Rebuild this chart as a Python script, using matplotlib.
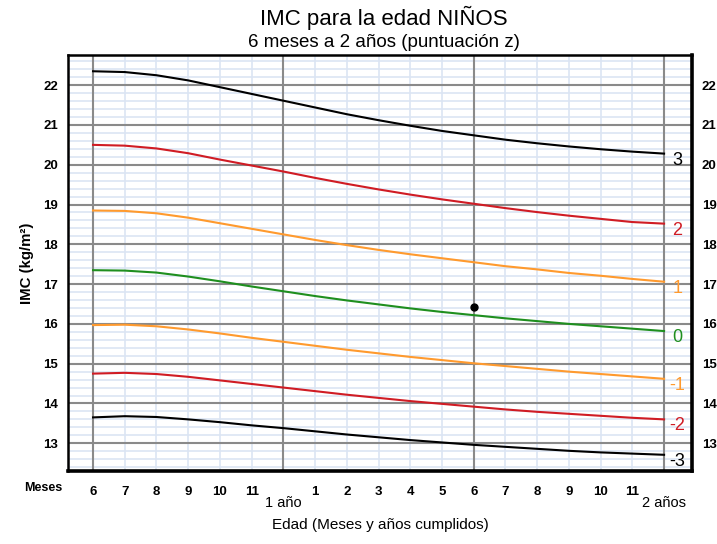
import matplotlib.pyplot as plt

plt.rcParams['font.family'] = ['Liberation Sans', 'DejaVu Sans']

# edad en meses (6 a 24)
months = list(range(6, 25))

# IMC por puntuación z (niños)
z_m3 = [13.65, 13.68, 13.66, 13.60, 13.53, 13.45, 13.38, 13.30, 13.22, 13.15, 13.08, 13.02,
        12.96, 12.91, 12.86, 12.81, 12.77, 12.74, 12.71]
z_m2 = [14.75, 14.77, 14.74, 14.67, 14.58, 14.49, 14.40, 14.31, 14.22, 14.14, 14.06, 13.99,
        13.92, 13.85, 13.79, 13.74, 13.69, 13.64, 13.60]
z_m1 = [15.97, 15.98, 15.94, 15.86, 15.76, 15.65, 15.55, 15.45, 15.35, 15.26, 15.17, 15.09,
        15.01, 14.94, 14.87, 14.80, 14.74, 14.68, 14.62]
z_0 = [17.35, 17.34, 17.29, 17.19, 17.07, 16.94, 16.82, 16.70, 16.59, 16.49, 16.39, 16.30,
       16.22, 16.14, 16.07, 16.00, 15.94, 15.88, 15.82]
z_p1 = [18.85, 18.84, 18.78, 18.67, 18.53, 18.39, 18.25, 18.11, 17.98, 17.86, 17.75, 17.65,
        17.55, 17.45, 17.37, 17.28, 17.21, 17.13, 17.06]
z_p2 = [20.50, 20.48, 20.41, 20.29, 20.13, 19.98, 19.83, 19.67, 19.52, 19.38, 19.25, 19.13,
        19.02, 18.91, 18.81, 18.72, 18.64, 18.56, 18.52]
z_p3 = [22.35, 22.33, 22.25, 22.12, 21.95, 21.78, 21.61, 21.44, 21.27, 21.12, 20.98, 20.85,
        20.74, 20.63, 20.54, 20.46, 20.39, 20.33, 20.28]

curves = [z_p3, z_p2, z_p1, z_0, z_m1, z_m2, z_m3]
curve_labels = ['3', '2', '1', '0', '-1', '-2', '-3']
colors = ['#000000', '#d01c24', '#ff9a2e', '#1f8f1f', '#ff9a2e', '#d01c24', '#000000']

# punto del niño
point_x = [18]
point_y = [16.42]

month_ticks = [6, 7, 8, 9, 10, 11, 13, 14, 15, 16, 17, 18, 19, 20, 21, 22, 23]
month_labels = ['6', '7', '8', '9', '10', '11', '1', '2', '3', '4', '5', '6', '7', '8', '9', '10', '11']
bmi_ticks = list(range(13, 23))

fig = plt.figure(figsize=(7.17, 5.44), dpi=100)
ax = fig.add_axes([0.0948, 0.134, 0.8703, 0.765])
ax.set_xlim(5.21, 24.88)
ax.set_ylim(12.3, 22.76)

# cuadrícula
y = 12.4
while y < 22.76:
    if abs(y - round(y)) > 0.01:
        ax.axhline(y, color='#dbe5f3', lw=1.2, zorder=0)
    y += 0.2
for m in range(7, 25):
    if m not in (12, 18, 24):
        ax.axvline(m, color='#dbe5f3', lw=1.2, zorder=0)
for b in bmi_ticks:
    ax.axhline(b, color='#8a8a8a', lw=1.5, zorder=1)
for m in (6, 12, 18, 24):
    ax.axvline(m, color='#8a8a8a', lw=1.5, zorder=1)

for vals, lab, c in zip(curves, curve_labels, colors):
    ax.plot(months, vals, color=c, lw=1.5, zorder=3)
    ax.text(24.42, vals[-1] + 0.05, lab, color=c, fontsize=13, ha='center', va='top', zorder=4)

ax.plot(point_x, point_y, 'o', color='black', ms=5, zorder=5)

ax.set_yticks(bmi_ticks)
ax.set_yticklabels([str(b) for b in bmi_ticks], fontweight='bold', fontsize=9.5)
ax.set_xticks(month_ticks)
ax.set_xticklabels(month_labels, fontweight='bold', fontsize=9.5)
ax.tick_params(axis='y', length=0, pad=7, labelright=True)
ax.tick_params(axis='x', length=0, pad=11)

tr = ax.get_xaxis_transform()
ax.text(12, -0.077, '1 año', transform=tr, ha='center', va='center', fontsize=10.5)
ax.text(24, -0.077, '2 años', transform=tr, ha='center', va='center', fontsize=10.5)
ax.text(4.42, -0.041, 'Meses', transform=tr, ha='center', va='center', fontsize=9, fontweight='bold')

for s in ax.spines.values():
    s.set_linewidth(1.8)
    s.set_color('black')
ax.spines['right'].set_linewidth(2.6)
ax.spines['bottom'].set_linewidth(2.6)

ax.set_xlabel('Edad (Meses y años cumplidos)', fontsize=11, labelpad=14)
ax.set_ylabel('IMC (kg/m²)', fontsize=10.8, fontweight='bold', labelpad=7)

fig.text(0.535, 0.967, 'IMC para la edad NIÑOS', ha='center', va='center', fontsize=16)
fig.text(0.535, 0.921, '6 meses a 2 años (puntuación z)', ha='center', va='center', fontsize=13.5)

fig.savefig('out.png', dpi=100)
